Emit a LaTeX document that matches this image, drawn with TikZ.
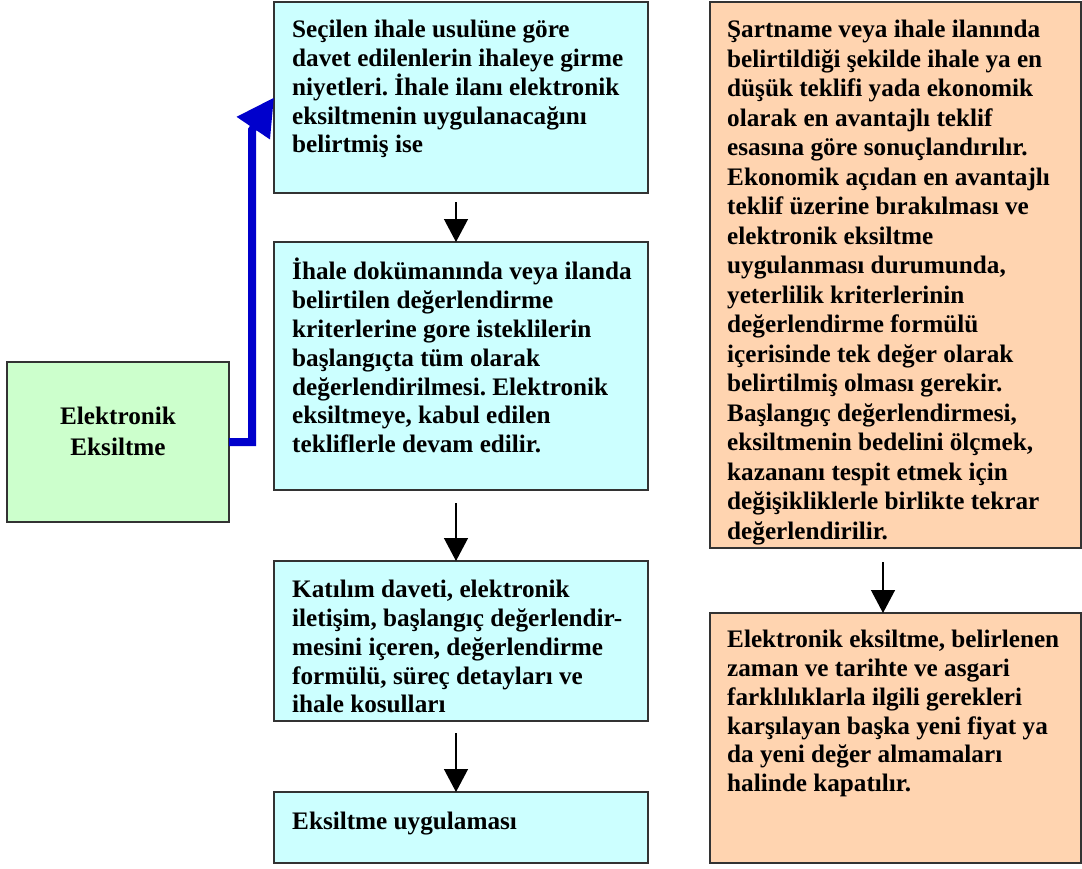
\documentclass[tikz,border=0pt]{standalone}
\usepackage{fontspec}
\setmainfont{Liberation Serif}
\usetikzlibrary{arrows.meta,calc}
\definecolor{cyanfill}{HTML}{CCFFFF}
\definecolor{greenfill}{HTML}{CCFFCC}
\definecolor{orangefill}{HTML}{FFD4B0}
\definecolor{edge}{HTML}{333333}
\definecolor{arrowblue}{HTML}{0000CC}
\frenchspacing
\begin{document}
\frenchspacing
\begin{tikzpicture}[x=1pt,y=-1pt,
  boxstyle/.style={draw=edge, line width=1.5pt, inner sep=0pt, outer sep=0pt, anchor=north west},
  txt/.style={anchor=north west, inner sep=0pt, align=left, font=\fontsize{25.2}{28.8}\selectfont\bfseries},
  arr/.style={-{Triangle[width=24pt,length=23pt]}, line width=1.3pt, black},
  bluearr/.style={-{Triangle[width=38pt,length=37pt]}, line width=8pt, arrowblue, line join=miter}]
\useasboundingbox (0,0) rectangle (1082,868);
% boxes
\node[boxstyle, fill=greenfill, minimum width=222, minimum height=160] (green) at (7,362) {};
\node[boxstyle, fill=cyanfill, minimum width=374, minimum height=191] (b1) at (274,2) {};
\node[boxstyle, fill=cyanfill, minimum width=374, minimum height=248] (b2) at (274,242) {};
\node[boxstyle, fill=cyanfill, minimum width=374, minimum height=160] (b3) at (274,561) {};
\node[boxstyle, fill=cyanfill, minimum width=374, minimum height=71] (b4) at (274,792) {};
\node[boxstyle, fill=orangefill, minimum width=371, minimum height=546] (o1) at (710,2) {};
\node[boxstyle, fill=orangefill, minimum width=371, minimum height=250] (o2) at (710,613) {};
% texts
\node[font=\fontsize{25.2}{31}\selectfont\bfseries, align=center, inner sep=0pt] (gt) at ($(green.center)+(0,-11)$) {Elektronik\\Eksiltme};
\node[txt] (t1) at ($(b1.north west)+(18,18)$) {Seçilen ihale usulüne göre\\davet edilenlerin ihaleye girme\\niyetleri. İhale ilanı elektronik\\eksiltmenin uygulanacağını\\belirtmiş ise};
\node[txt] (t2) at ($(b2.north west)+(18,16)$) {İhale dokümanında veya ilanda\\belirtilen değerlendirme\\kriterlerine gore isteklilerin\\başlangıçta tüm olarak\\değerlendirilmesi. Elektronik\\eksiltmeye, kabul edilen\\tekliflerle devam edilir.};
\node[txt] (t3) at ($(b3.north west)+(18,19)$) {Katılım daveti, elektronik\\iletişim, başlangıç değerlendir-\\mesini içeren, değerlendirme\\formülü, süreç detayları ve\\ihale kosulları};
\node[txt] (t4) at ($(b4.north west)+(18,20)$) {Eksiltme uygulaması};
\node[txt, font=\fontsize{25.2}{29.5}\selectfont\bfseries] (t5) at ($(o1.north west)+(17,18)$) {Şartname veya ihale ilanında\\belirtildiği şekilde ihale ya en\\düşük teklifi yada ekonomik\\olarak en avantajlı teklif\\esasına göre sonuçlandırılır.\\Ekonomik açıdan en avantajlı\\teklif üzerine bırakılması ve\\elektronik eksiltme\\uygulanması durumunda,\\yeterlilik kriterlerinin\\değerlendirme formülü\\içerisinde tek değer olarak\\belirtilmiş olması gerekir.\\Başlangıç değerlendirmesi,\\eksiltmenin bedelini ölçmek,\\kazananı tespit etmek için\\değişikliklerle birlikte tekrar\\değerlendirilir.};
\node[txt] (t6) at ($(o2.north west)+(17,17)$) {Elektronik eksiltme, belirlenen\\zaman ve tarihte ve asgari\\farklılıklarla ilgili gerekleri\\karşılayan başka yeni fiyat ya\\da yeni değer almamaları\\halinde kapatılır.};
% connectors
\draw[arr] ($(b1.south)+(-5,9)$) -- ($(b2.north)+(-5,0)$);
\draw[arr] ($(b2.south)+(-5,13)$) -- ($(b3.north)+(-5,0)$);
\draw[arr] ($(b3.south)+(-5,12)$) -- ($(b4.north)+(-5,0)$);
\draw[arr] ($(o1.south)+(-12.5,14)$) -- ($(o2.north)+(-12.5,0)$);
\coordinate (bend) at (252,130);
\draw[bluearr] (green.east) -| (bend) -- (b1.west);
\end{tikzpicture}
\end{document}
